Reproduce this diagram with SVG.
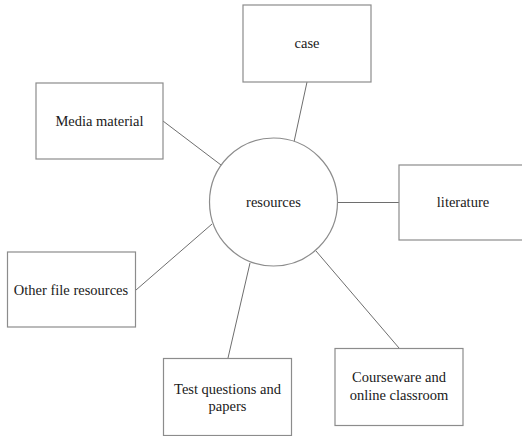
<svg xmlns="http://www.w3.org/2000/svg" width="522" height="436" viewBox="0 0 522 436">
<style>
.box{fill:#fff;stroke:#8c8c8c;stroke-width:1.2}
.ln{stroke:#6e6e6e;stroke-width:1;fill:none}
.t{font-family:'Liberation Serif','Times New Roman',serif;font-size:14.5px;fill:#1a1a1a;text-anchor:middle}
</style>
<rect width="522" height="436" fill="#fff"/>
<g id="connectors">
<line class="ln" x1="307" y1="82" x2="294" y2="142"/>
<line class="ln" x1="163" y1="121" x2="221" y2="165"/>
<line class="ln" x1="338" y1="202.5" x2="399" y2="202.5"/>
<line class="ln" x1="136" y1="290" x2="212" y2="224"/>
<line class="ln" x1="228" y1="358" x2="250" y2="263"/>
<line class="ln" x1="399" y1="348" x2="316" y2="251"/>
</g>
<g id="resources">
<circle class="box" cx="273.5" cy="202" r="64"/>
<text class="t" x="273.5" y="207">resources</text>
</g>
<g id="case">
<rect class="box" x="243" y="5" width="128" height="77"/>
<text class="t" x="307" y="48">case</text>
</g>
<g id="media">
<rect class="box" x="36" y="83" width="127" height="76"/>
<text class="t" x="99.5" y="126">Media material</text>
</g>
<g id="literature">
<rect class="box" x="399" y="165" width="128" height="75"/>
<text class="t" x="463" y="207">literature</text>
</g>
<g id="other">
<rect class="box" x="7.5" y="252" width="128" height="75"/>
<text class="t" x="71" y="295">Other file resources</text>
</g>
<g id="test">
<rect class="box" x="163.5" y="358.5" width="128" height="77"/>
<text class="t" x="227.5" y="394">Test questions and</text>
<text class="t" x="227.5" y="411">papers</text>
</g>
<g id="courseware">
<rect class="box" x="335" y="348.5" width="128" height="77"/>
<text class="t" x="399" y="382">Courseware and</text>
<text class="t" x="399" y="400">online classroom</text>
</g>
</svg>
